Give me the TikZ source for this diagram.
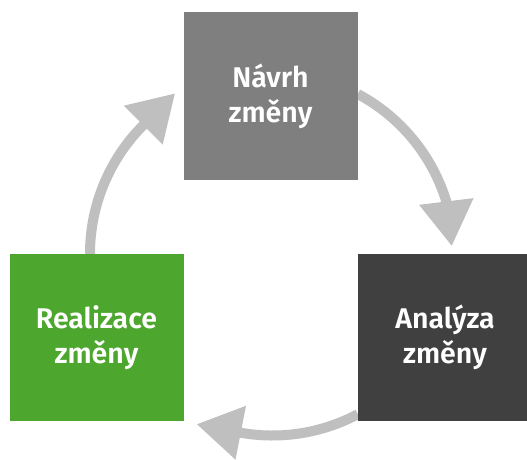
\documentclass[tikz,border=0pt]{standalone}
\usepackage{fontspec}
\newfontfamily\cajafont{Fira Sans SemiBold}
\usetikzlibrary{arrows.meta,backgrounds}
\definecolor{grisclaro}{RGB}{191,191,191}
\definecolor{grismedio}{RGB}{127,127,127}
\definecolor{grisoscuro}{RGB}{64,64,64}
\definecolor{verde}{RGB}{77,167,46}

\begin{document}
\begin{tikzpicture}[x=1pt, y=1pt, % 1 unidad = 1pt
    caja/.style={minimum width=174pt, minimum height=167pt, inner sep=0pt,
      text=white, align=center, font=\cajafont\fontsize{28.5}{35}\selectfont},
    flecha/.style={line width=10pt, color=grisclaro,
      -{Triangle[length=45pt, width=52pt]}}]
    \useasboundingbox (0,0) rectangle (527,459);
    \clip (0,0) rectangle (527,459);
    % Cajas del ciclo
    \node[caja, fill=grismedio] (navrh) at (270.5,363) {Návrh\\změny};
    \node[caja, fill=verde] (realiz) at (96.5,121.5) {Realizace\\změny};
    \node[caja, fill=grisoscuro] (analyza) at (445,121.5) {Analýza\\změny};
    % Flechas en arco (centro aprox. en (273,205), radio 182)
    \begin{pgfonlayer}{background}
    \draw[flecha] ([xshift=-6.5pt]realiz.north)
      arc[start angle=180, end angle=135, radius=182] -- ++(45:45);
    \draw[flecha] ([yshift=2pt]navrh.east)
      arc[start angle=62, end angle=17, radius=182] -- ++(-83:45);
    \draw[flecha] ([yshift=7pt]analyza.south west)
      arc[start angle=-62, end angle=-100, radius=182] -- ++(169:45);
    \end{pgfonlayer}
\end{tikzpicture}
\end{document}
